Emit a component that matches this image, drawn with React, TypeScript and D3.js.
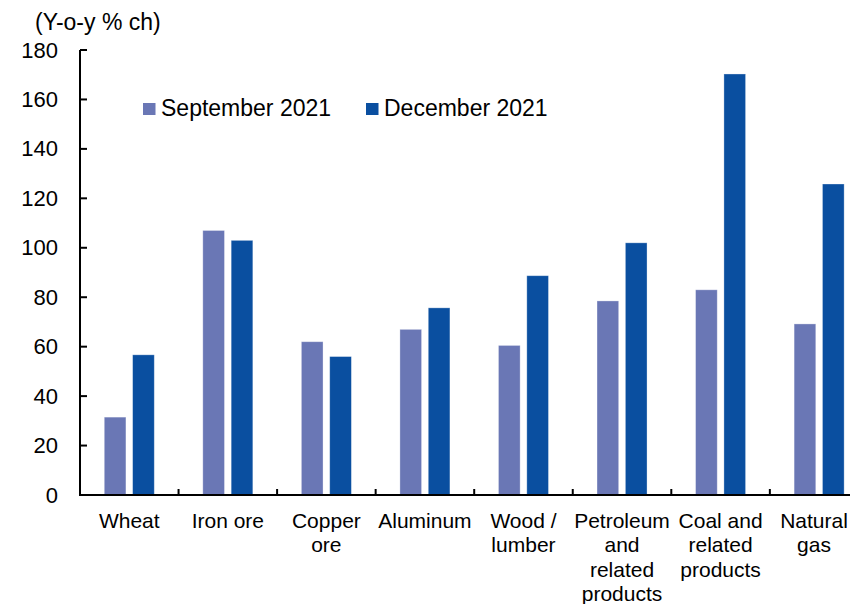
import React from "react";
import * as d3 from "d3";

const categories: string[][] = [
  ["Wheat"],
  ["Iron ore"],
  ["Copper", "ore"],
  ["Aluminum"],
  ["Wood /", "lumber"],
  ["Petroleum", "and", "related", "products"],
  ["Coal and", "related", "products"],
  ["Natural", "gas"],
];
const seriesNames = ["September 2021", "December 2021"];
const september2021 = [31.5, 107, 62, 67, 60.5, 78.5, 83, 69.2];
const december2021 = [56.7, 103, 56, 75.7, 88.7, 102, 170.3, 125.8];
const yTicks = [0, 20, 40, 60, 80, 100, 120, 140, 160, 180];
const colors = ["#6a77b5", "#0a4fa0"];

const W = 850;
const H = 604;
const left = 80;
const bandW = 98.55;
const font = "'Liberation Sans', Arial, sans-serif";

export default function App() {
  const keys = categories.map((c) => c.join(" "));
  const x = d3
    .scaleBand<string>()
    .domain(keys)
    .range([left, left + bandW * keys.length])
    .padding(0);
  const xs = d3
    .scaleBand<string>()
    .domain(seriesNames)
    .range([0, x.bandwidth()])
    .paddingInner(0.236)
    .paddingOuter(0.856);
  const y = d3.scaleLinear().domain([0, 180]).range([495, 50]);
  const data = [september2021, december2021];
  const labelX = (i: number) => Math.min((x(keys[i]) as number) + x.bandwidth() / 2, W - 36);

  return (
    <svg
      width={W}
      height={H}
      style={{ position: "absolute", left: 0, top: 0, background: "#fff" }}
      fontFamily={font}
    >
      <text x={35} y={30} fontSize={23} fill="#000">
        (Y-o-y % ch)
      </text>
      {data.map((vals, si) =>
        vals.map((v, i) => (
          <rect
            key={si + "-" + i}
            x={(x(keys[i]) as number) + (xs(seriesNames[si]) as number)}
            y={y(v)}
            width={xs.bandwidth()}
            height={y(0) - y(v)}
            fill={colors[si]}
            stroke="#ffffff"
            strokeOpacity={0.4}
            strokeWidth={0.8}
          />
        ))
      )}
      <line x1={left} x2={left} y1={y(180)} y2={y(0)} stroke="#000" strokeWidth={2} />
      {yTicks.map((t) => (
        <g key={t}>
          <line x1={left} x2={left + 7} y1={y(t)} y2={y(t)} stroke="#000" strokeWidth={2} />
          <text
            x={58}
            y={y(t)}
            fontSize={22}
            textAnchor="end"
            dominantBaseline="central"
            fill="#000"
          >
            {t}
          </text>
        </g>
      ))}
      <line x1={left - 1} x2={W} y1={y(0)} y2={y(0)} stroke="#000" strokeWidth={2} />
      {keys.slice(1).map((k) => (
        <line
          key={k}
          x1={x(k) as number}
          x2={x(k) as number}
          y1={y(0)}
          y2={y(0) - 6}
          stroke="#000"
          strokeWidth={2}
        />
      ))}
      {categories.map((lines, i) => (
        <text key={keys[i]} x={labelX(i)} y={528} fontSize={21} textAnchor="middle" fill="#000">
          {lines.map((l, j) => (
            <tspan key={j} x={labelX(i)} dy={j === 0 ? 0 : 24.3}>
              {l}
            </tspan>
          ))}
        </text>
      ))}
      {seriesNames.map((s, si) => {
        const lx = [143, 366][si];
        return (
          <g key={s}>
            <rect x={lx} y={103} width={12.5} height={12} fill={colors[si]} />
            <text x={lx + 18} y={116} fontSize={23} fill="#000">
              {s}
            </text>
          </g>
        );
      })}
    </svg>
  );
}
